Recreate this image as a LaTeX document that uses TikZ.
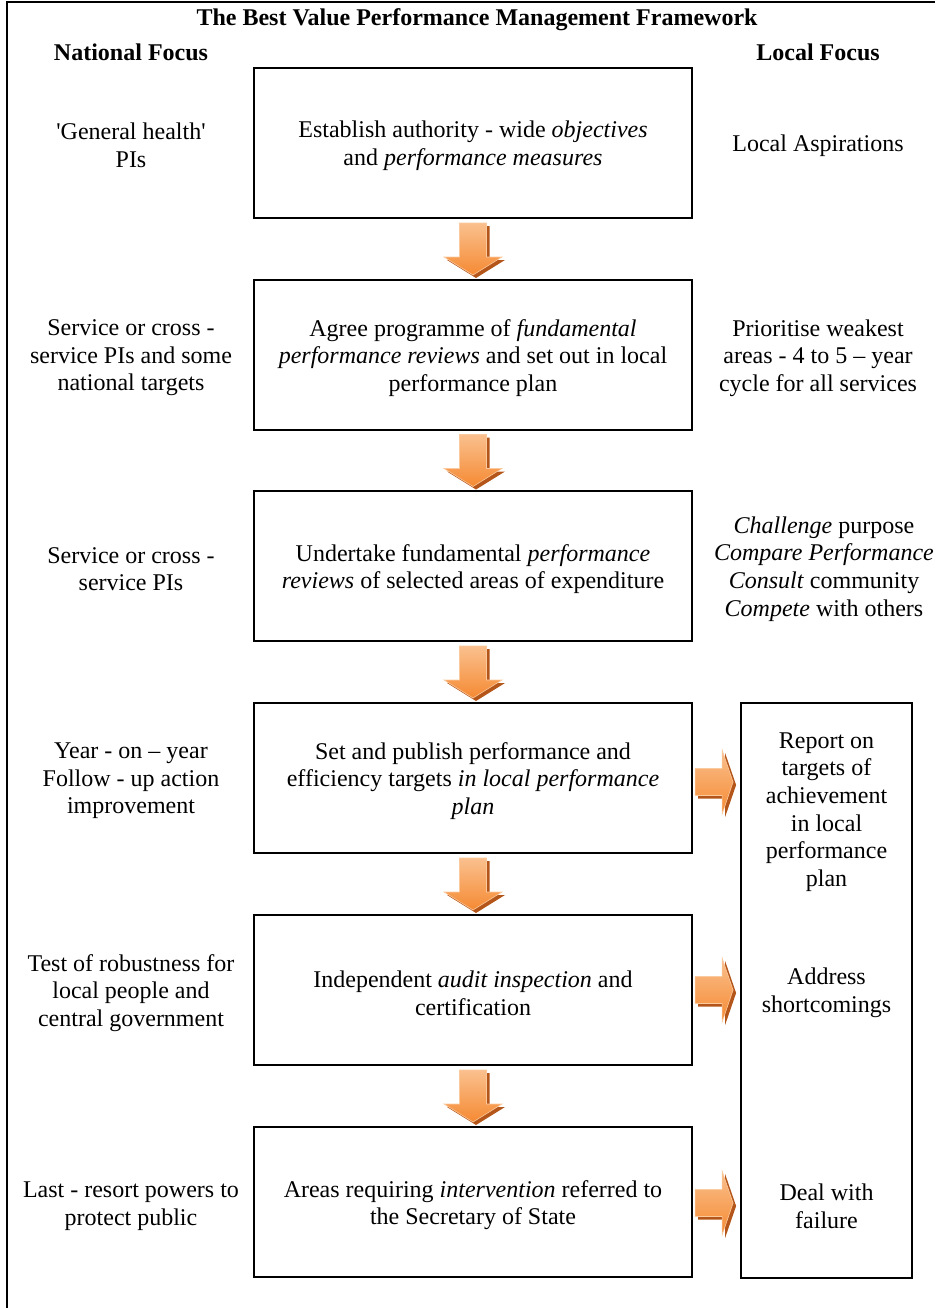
\documentclass[tikz,border=0pt]{standalone}
\usepackage{fontspec}
\setmainfont{Liberation Serif}
\usetikzlibrary{calc}
\definecolor{arrmain}{HTML}{F58A33}
\definecolor{arrlight}{HTML}{FAC08E}
\definecolor{arrshadow}{HTML}{B4561A}
\definecolor{arredge}{HTML}{FBC99E}
\tikzset{
  darr/.pic={
    \fill[arrshadow,shift={(3,3)}] (-13.5,-26) -- (13.5,-26) -- (13.5,8) -- (29,8) -- (0,26) -- (-29,8) -- (-13.5,8) -- cycle;
    \shade[top color=arrlight,bottom color=arrmain,draw=arredge,line width=0.6pt]
      (-13.5,-26) -- (13.5,-26) -- (13.5,8) -- (29,8) -- (0,26) -- (-29,8) -- (-13.5,8) -- cycle;
  },
  rarr/.pic={
    \fill[arrshadow,shift={(3,3)}] (-19,-13.5) -- (8,-13.5) -- (8,-32) -- (19,0) -- (8,32) -- (8,13.5) -- (-19,13.5) -- cycle;
    \shade[top color=arrlight,bottom color=arrmain,draw=arredge,line width=0.6pt]
      (-19,-13.5) -- (8,-13.5) -- (8,-32) -- (19,0) -- (8,32) -- (8,13.5) -- (-19,13.5) -- cycle;
  }
}
\begin{document}
\begin{tikzpicture}[x=1pt,y=-1pt,
  txt/.style={align=center,inner sep=0pt,yshift=-3pt,font=\fontsize{24}{27.6}\selectfont},
  hdr/.style={inner sep=0pt,yshift=-2pt,font=\fontsize{24}{27.6}\selectfont\bfseries},
  stage/.style={draw,line width=2.2pt,minimum width=438pt,minimum height=150pt,inner sep=0pt},
  sidebox/.style={draw,line width=2.2pt,minimum width=171pt,minimum height=575pt,inner sep=0pt}]
\useasboundingbox (0,0) rectangle (935,1308);
\draw[line width=2pt] (7,1308) -- (7,2.5) -- (935,2.5);

\node[hdr] (title) at (477,18) {The Best Value Performance Management Framework};
\node[hdr] (natf) at (131,50) {National Focus};
\node[hdr] (locf) at (818,50) {Local Focus};

% stages
\node[stage] (b1) at (473,143) {};
\node[stage] (b2) at (473,355) {};
\node[stage] (b3) at (473,566) {};
\node[stage] (b4) at (473,778) {};
\node[stage] (b5) at (473,990) {};
\node[stage] (b6) at (473,1202) {};
\node[txt] (t1) at (b1.center) {Establish authority - wide \textit{objectives}\\and \textit{performance measures}};
\node[txt] (t2) at (b2.center) {Agree programme of \textit{fundamental}\\\textit{performance reviews} and set out in local\\performance plan};
\node[txt] (t3) at (b3.center) {Undertake fundamental \textit{performance}\\\textit{reviews} of selected areas of expenditure};
\node[txt] (t4) at (b4.center) {Set and publish performance and\\efficiency targets \textit{in local performance}\\\textit{plan}};
\node[txt] (t5) at (b5.center) {Independent \textit{audit inspection} and\\certification};
\node[txt] (t6) at (b6.center) {Areas requiring \textit{intervention} referred to\\the Secretary of State};

% national focus
\node[txt] (n1) at (131,142) {\textquotesingle General health\textquotesingle\\PIs};
\node[txt] (n2) at (131,355) {Service or cross -\\service PIs and some\\national targets};
\node[txt] (n3) at (131,566) {Service or cross -\\service PIs};
\node[txt] (n4) at (131,778) {Year - on -- year\\Follow - up action\\improvement};
\node[txt] (n5) at (131,990) {Test of robustness for\\local people and\\central government};
\node[txt] (n6) at (131,1203) {Last - resort powers to\\protect public};

% local focus
\node[txt] (l1) at (818,143) {Local Aspirations};
\node[txt] (l2) at (818,355) {Prioritise weakest\\areas - 4 to 5 -- year\\cycle for all services};
\node[txt] (l3) at (824,566) {\textit{Challenge} purpose\\\textit{Compare Performance}\\\textit{Consult} community\\\textit{Compete} with others};

% side box
\node[sidebox] (rb) at (826.5,990.5) {};
\node[txt] (r1) at (826.5,809) {Report on\\targets of\\achievement\\in local\\performance\\plan};
\node[txt] (r2) at (826.5,990) {Address\\shortcomings};
\node[txt] (r3) at (826.5,1203) {Deal with\\failure};

% arrows
\pic at ($(b1.south)!0.5!(b2.north)$) {darr};
\pic at ($(b2.south)!0.5!(b3.north)$) {darr};
\pic at ($(b3.south)!0.5!(b4.north)$) {darr};
\pic at ($(b4.south)!0.5!(b5.north)$) {darr};
\pic at ($(b5.south)!0.5!(b6.north)$) {darr};
\pic at ($(b4.east)+(21,4)$) {rarr};
\pic at ($(b5.east)+(21,0)$) {rarr};
\pic at ($(b6.east)+(21,1)$) {rarr};
\end{tikzpicture}
\end{document}
